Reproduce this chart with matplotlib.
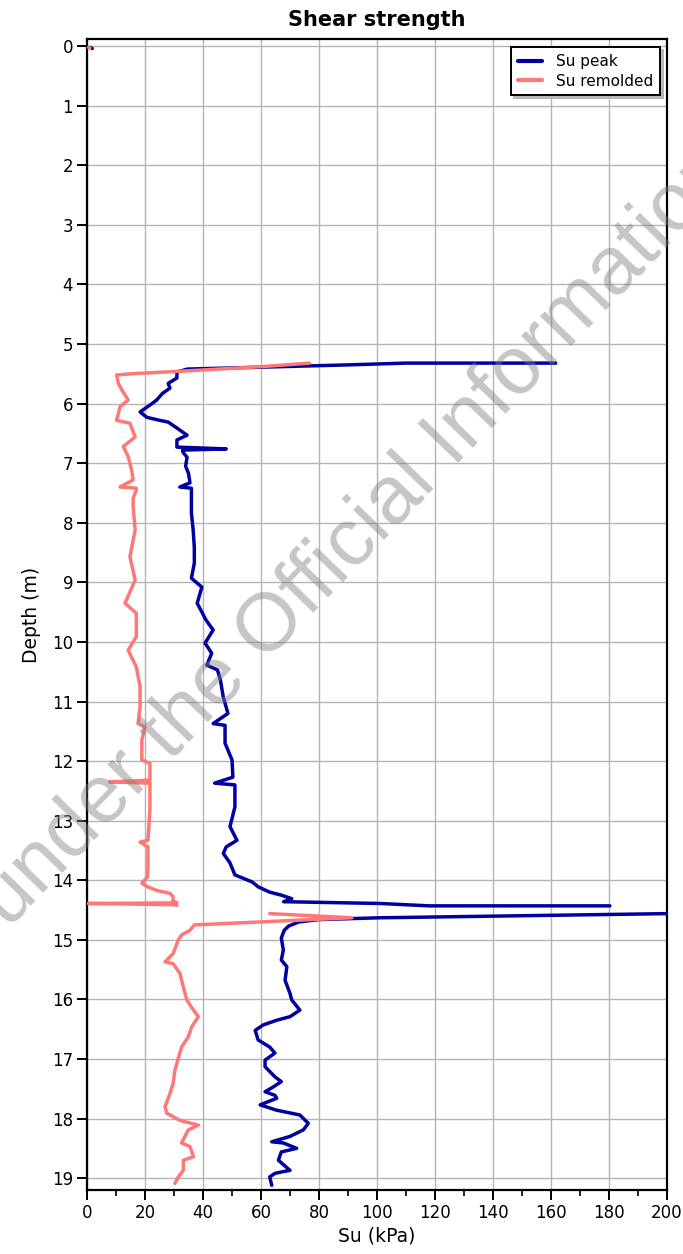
import numpy as np
import matplotlib
matplotlib.use("Agg")
import matplotlib.pyplot as plt
from matplotlib.ticker import MultipleLocator

nan = np.nan

# Peak undrained shear strength profile (depth in m, Su in kPa); NaN marks gaps in the record
peak_depth = [0.02, 0.04, nan,
              5.32, 5.32, 5.35, 5.40, 5.42, 5.47, 5.55, 5.57, 5.66, 5.74, 5.83, 5.94, 6.00,
              6.14, 6.23, 6.28, 6.31, 6.41, 6.53, 6.61, 6.73, 6.76, 6.78, 6.81, 6.90, 7.05,
              7.17, 7.33, 7.40, 7.42, 7.62, 7.84, 8.12, 8.41, 8.68, 8.93, 9.08, 9.35, 9.63,
              9.80, 10.02, 10.19, 10.39, 10.47, 10.64, 10.93, 11.20, 11.37, 11.40, 11.70,
              11.98, 12.27, 12.37, 12.40, 12.77, 13.10, 13.33, 13.44, 13.55, 13.71, 13.91,
              14.03, 14.11, 14.20, 14.25, 14.31, 14.36, 14.39, 14.43, 14.43, nan,
              14.55, 14.63, 14.66, 14.70, 14.77, 14.84, 14.97, 15.17, 15.34, 15.45, 15.68,
              15.90, 16.01, 16.18, 16.29, 16.35, 16.43, 16.52, 16.68, 16.80, 16.90, 17.02,
              17.13, 17.30, 17.38, 17.47, 17.55, 17.61, 17.66, 17.77, 17.86, 17.94, 18.08,
              18.19, 18.30, 18.39, 18.41, 18.50, 18.56, 18.70, 18.87, 18.89, 18.92, 18.98,
              19.12]
peak_su = [1.2, 1.8, nan,
           161.6, 110.0, 90.0, 51.0, 34.6, 31.0, 31.0, 31.0, 28.0, 28.6, 26.0, 24.0, 22.4,
           18.3, 20.6, 25.0, 28.0, 31.0, 34.5, 31.0, 31.0, 48.0, 33.0, 33.0, 34.5, 34.0,
           35.0, 35.5, 32.0, 36.0, 36.0, 36.0, 36.6, 37.0, 37.0, 36.0, 39.6, 38.0, 41.0,
           43.5, 40.7, 43.0, 41.3, 45.0, 46.0, 47.0, 48.6, 43.5, 47.6, 47.6,
           50.0, 50.3, 44.0, 51.0, 51.0, 49.3, 51.7, 48.0, 47.0, 49.3, 51.0,
           57.0, 59.0, 63.0, 67.0, 70.6, 67.8, 101.0, 118.0, 180.3, nan,
           215.0, 101.0, 80.0, 73.0, 69.5, 68.0, 67.0, 67.7, 67.0, 68.9, 68.3,
           70.0, 70.6, 73.4, 70.0, 65.4, 60.7, 58.0, 59.0, 63.0, 64.8, 61.4,
           61.4, 64.8, 67.0, 64.2, 61.4, 64.8, 65.4, 59.7, 65.4, 73.4, 76.3,
           74.6, 70.0, 63.7, 67.7, 72.3, 67.0, 66.0, 70.0, 67.7, 64.8, 63.0,
           63.7]

# Remolded shear strength profile
remolded_depth = [0.02, 0.03, nan,
                  5.32, 5.38, 5.45, 5.50, 5.52, 5.66, 5.77, 5.94, 6.05, 6.28, 6.33, 6.56,
                  6.72, 6.89, 7.12, 7.28, 7.40, 7.42, 7.45, 7.59, 7.73, 8.12, 8.57, 8.96,
                  9.35, 9.52, 9.91, 10.14, 10.42, 10.75, 11.09, 11.37, 11.43, 11.65, 11.98,
                  12.04, 12.32, 12.35, 12.37, 12.82, 13.33, 13.36, 13.44, 13.77, 13.94,
                  14.05, 14.11, 14.17, 14.22, 14.28, 14.34, 14.38, 14.39, 14.41, 14.42, nan,
                  14.56, 14.63, 14.75, 14.84, 14.92, 15.00, 15.23, 15.37, 15.40, 15.56,
                  15.79, 16.01, 16.18, 16.29, 16.46, 16.63, 16.80, 16.90, 17.19, 17.41,
                  17.58, 17.80, 17.91, 18.03, 18.11, 18.19, 18.41, 18.47, 18.64, 18.70,
                  18.87, 18.98, 19.09]
remolded_su = [0.5, 1.0, nan,
               76.7, 60.0, 34.6, 15.0, 10.2, 10.8, 12.0, 14.2, 11.4, 10.2, 14.8, 16.6,
               12.5, 14.2, 15.4, 15.9, 11.4, 17.0, 17.0, 15.9, 15.9, 16.6, 14.8, 16.6,
               13.1, 17.0, 17.0, 14.2, 17.0, 18.3, 18.3, 17.6, 20.0, 18.9, 18.9,
               21.7, 21.7, 7.8, 21.7, 21.7, 21.0, 18.3, 21.0, 21.0, 20.9,
               18.9, 20.9, 24.0, 28.6, 29.7, 29.6, 31.0, 0.4, 29.6, 31.0, nan,
               63.0, 91.3, 37.0, 35.5, 32.6, 31.5, 29.7, 26.9, 29.7, 32.0,
               33.2, 34.4, 36.7, 38.4, 36.1, 34.9, 32.6, 32.0, 30.3, 29.7,
               28.6, 26.9, 27.5, 32.0, 38.4, 34.9, 32.6, 35.5, 36.7, 33.2,
               33.2, 31.5, 30.3]

series_labels = ["Su peak", "Su remolded"]
depth_ticks = list(range(0, 20))

PEAK_COLOR = "#0000a0"
REMOLDED_COLOR = "#ff7878"

fig = plt.figure(figsize=(6.83, 12.54), dpi=100)
ax = fig.add_axes([0.1274, 0.0510, 0.8492, 0.9179])

line_kw = dict(lw=2.5, solid_capstyle="round", solid_joinstyle="round")
ax.plot(peak_su, peak_depth, color=PEAK_COLOR, label=series_labels[0], zorder=3, **line_kw)
ax.plot(remolded_su, remolded_depth, color=REMOLDED_COLOR, label=series_labels[1], zorder=4, **line_kw)

ax.set_xlim(0, 200)
ax.set_ylim(19.2, -0.12)
ax.xaxis.set_major_locator(MultipleLocator(20))
ax.xaxis.set_minor_locator(MultipleLocator(10))
ax.set_yticks(depth_ticks)

ax.grid(True, which="major", color="#b4b4b4", lw=1.0)
ax.set_axisbelow(True)

for side in ["left", "right", "top", "bottom"]:
    ax.spines[side].set_linewidth(1.6)
    ax.spines[side].set_color("black")

ax.tick_params(axis="both", which="major", direction="out", length=7, width=1.4,
               labelsize=12, pad=3)
ax.tick_params(axis="x", which="minor", direction="out", length=4, width=1.2)
ax.tick_params(axis="y", which="minor", length=0)

ax.set_xlabel("Su (kPa)", fontsize=13.5, labelpad=3)
ax.set_ylabel("Depth (m)", fontsize=13.5, labelpad=8)
ax.set_title("Shear strength", fontsize=15, fontweight="bold", pad=9)

leg = ax.legend(loc="upper right", bbox_to_anchor=(0.988, 0.993), borderaxespad=0,
                fancybox=False, shadow={"color": "0.72", "alpha": 1.0},
                fontsize=11, handlelength=1.6, handletextpad=0.9, labelspacing=0.3,
                borderpad=0.45, framealpha=1)
leg.get_frame().set_edgecolor("black")
leg.get_frame().set_linewidth(1.4)
for h in leg.get_lines():
    h.set_linewidth(3)

# Diagonal watermark across the plot
fig.text(0.012, 0.259, "under the Official Information Act", rotation=46,
         rotation_mode="anchor", ha="left", va="baseline", fontsize=59,
         family="Liberation Sans", color="#808080", alpha=0.45, zorder=10)

fig.savefig("out.png", dpi=100)
